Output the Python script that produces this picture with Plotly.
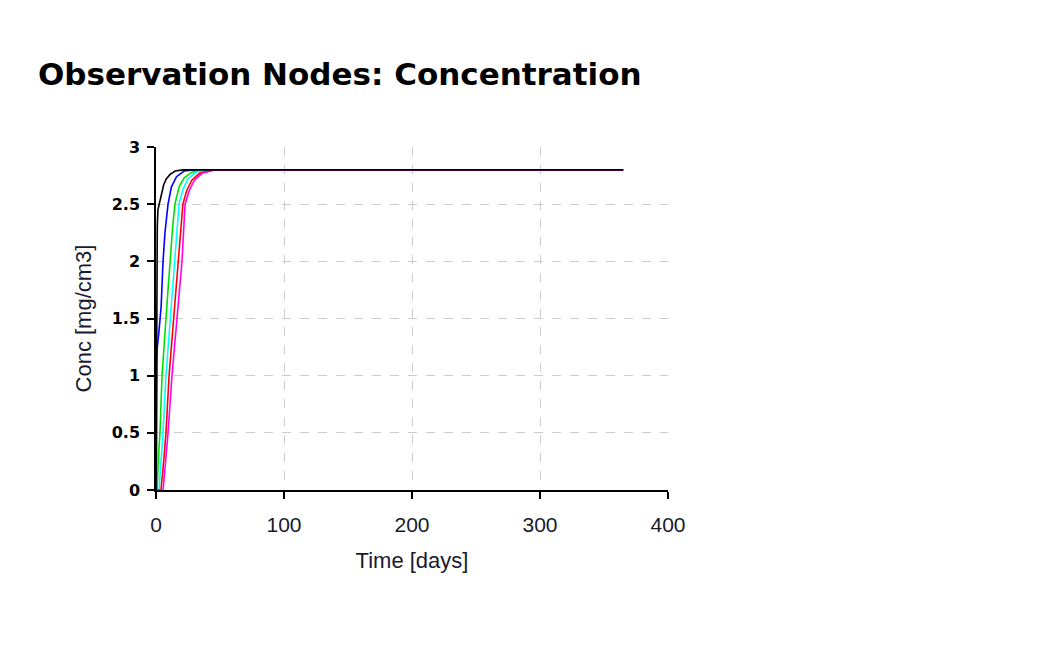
import plotly.graph_objects as go

# ---- data ----
series_names = ["Node 1", "Node 2", "Node 3", "Node 4", "Node 5", "Node 6"]
series_colors = ["#0000FF", "#00E000", "#00FFFF", "#FF0000", "#FF00FF", "#000000"]

t_blue = [0, 0.4, 0.6, 1, 2, 3, 4, 5.5, 7, 9.4, 12, 16, 22, 29, 365]
c_blue = [0, 0.3, 1.1, 1.25, 1.35, 1.45, 1.6, 2.0, 2.25, 2.5, 2.65, 2.74, 2.79, 2.8, 2.8]

t_green = [0, 0.8, 2, 3.1, 4.7, 6, 7.8, 9.4, 10.9, 13, 14.8, 18, 22, 28, 37, 365]
c_green = [0, 0, 0.3, 0.5, 1.0, 1.25, 1.5, 1.75, 2.0, 2.3, 2.5, 2.65, 2.73, 2.78, 2.8, 2.8]

t_cyan = [0, 2.3, 4, 5.5, 7.8, 9.5, 11.7, 14.8, 18, 21, 25, 31, 41, 365]
c_cyan = [0, 0, 0.25, 0.5, 1.0, 1.25, 1.5, 2.0, 2.5, 2.63, 2.72, 2.78, 2.8, 2.8]

t_red = [0, 3.9, 6, 7.8, 10.2, 12, 14, 17.2, 21, 24, 28, 34, 44, 365]
c_red = [0, 0, 0.25, 0.5, 1.0, 1.25, 1.5, 2.0, 2.5, 2.62, 2.71, 2.77, 2.8, 2.8]

t_magenta = [0, 5.5, 7.5, 9.4, 12.5, 14.5, 16.4, 20.3, 22.7, 26, 30, 36, 46, 365]
c_magenta = [0, 0, 0.25, 0.5, 1.0, 1.25, 1.5, 2.0, 2.5, 2.62, 2.71, 2.77, 2.8, 2.8]

t_black = [0, 0.3, 0.6, 1, 1.5, 3, 4.5, 6, 8, 11, 15, 21, 365]
c_black = [0, 1.2, 1.95, 2.3, 2.45, 2.52, 2.6, 2.67, 2.72, 2.76, 2.79, 2.8, 2.8]

x_ticks = [0, 100, 200, 300, 400]
y_ticks = [0, 0.5, 1, 1.5, 2, 2.5, 3]
y_tick_labels = ["0", "0.5", "1", "1.5", "2", "2.5", "3"]

title_text = "Observation Nodes: Concentration"
x_title = "Time [days]"
y_title = "Conc [mg/cm3]"

all_t = [t_blue, t_green, t_cyan, t_red, t_magenta, t_black]
all_c = [c_blue, c_green, c_cyan, c_red, c_magenta, c_black]

fig = go.Figure()
for name, col, tt, cc in zip(series_names, series_colors, all_t, all_c):
    fig.add_trace(go.Scatter(x=tt, y=cc, mode="lines", name=name,
                             line=dict(color=col, width=1.6), showlegend=False))

fig.update_layout(
    width=1044, height=653,
    margin=dict(l=156, r=376, t=147, b=163),
    paper_bgcolor="white", plot_bgcolor="white",
    title=dict(text="<b>" + title_text + "</b>", x=38 / 1044, xanchor="left",
               y=1 - 74 / 653, yanchor="middle",
               font=dict(family="DejaVu Sans", size=31, color="black")),
    showlegend=False,
)
fig.update_xaxes(
    range=[0, 400], tickvals=x_ticks, ticktext=[str(v) for v in x_ticks],
    showline=True, linecolor="black", linewidth=1.5,
    ticks="outside", ticklen=7, tickcolor="black", tickwidth=1.5,
    showgrid=True, gridcolor="#cccccc", griddash="dash", gridwidth=1,
    zeroline=False,
    tickfont=dict(family="Liberation Sans, Arial", size=21, color="#1a1a2e"),
    ticklabelstandoff=8,
    title=dict(text=x_title, standoff=18,
               font=dict(family="Liberation Sans, Arial", size=22, color="#1a1a2e")),
)
fig.update_yaxes(
    range=[0, 3], tickvals=y_ticks, ticktext=y_tick_labels,
    showline=True, linecolor="black", linewidth=1.5,
    ticks="outside", ticklen=7, tickcolor="black", tickwidth=1.5,
    showgrid=True, gridcolor="#cccccc", griddash="dash", gridwidth=1,
    zeroline=False,
    tickfont=dict(family="DejaVu Sans", size=16, color="black", weight="bold"),
    ticklabelstandoff=4,
    title=dict(text=y_title, standoff=14,
               font=dict(family="Liberation Sans, Arial", size=22, color="#1a1a2e")),
)

fig.write_html("out.html")
